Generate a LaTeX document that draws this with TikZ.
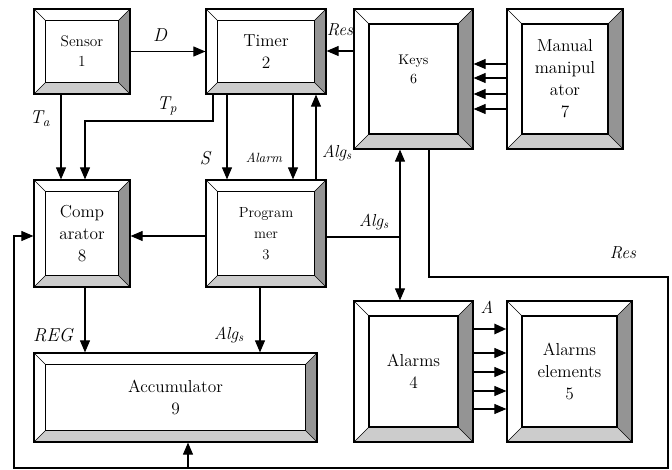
\documentclass[tikz,border=0pt]{standalone}
\usepackage{fontspec}
\usetikzlibrary{arrows.meta}

\tikzset{
  bev/.store in=\bevw, bev=8.6pt,
  blk/.style={draw, line width=0.9pt, align=center, inner sep=0pt,
    font=\fontsize{13}{16.5}\selectfont,
    path picture={
      \path (path picture bounding box.north east) coordinate (pNE)
            (path picture bounding box.north west) coordinate (pNW)
            (path picture bounding box.south east) coordinate (pSE)
            (path picture bounding box.south west) coordinate (pSW);
      \path ([xshift=-\bevw,yshift=-\bevw]pNE) coordinate (qNE)
            ([xshift=\bevw,yshift=-\bevw]pNW) coordinate (qNW)
            ([xshift=-\bevw,yshift=\bevw]pSE) coordinate (qSE)
            ([xshift=\bevw,yshift=\bevw]pSW) coordinate (qSW);
      \fill[black!42] (pNE) -- (pSE) -- (qSE) -- (qNE) -- cycle;
      \fill[black!20] (pSW) -- (pSE) -- (qSE) -- (qSW) -- cycle;
      \draw[line width=0.8pt] (qSW) rectangle (qNE);
      \draw[line width=0.5pt] (pNW) -- (qNW) (pNE) -- (qNE) (pSE) -- (qSE) (pSW) -- (qSW);
    }},
  arr/.style={line width=0.8pt, -{Triangle[length=9pt,width=7.5pt]}},
  lbl/.style={font=\fontsize{14}{16}\selectfont\itshape, inner sep=0pt}
}

\begin{document}
\begin{tikzpicture}[x=0.75pt,y=-0.75pt]
\useasboundingbox (0,0) rectangle (672,470);

% blocks
\node[blk, font=\fontsize{11.5}{15}\selectfont, minimum width=72pt, minimum height=63.75pt] (sensor) at (82,51.5) {Sensor\\1};
\node[blk, minimum width=90pt, minimum height=63.75pt] (timer) at (266,51.5) {Timer\\2};
\node[blk, bev=11.25pt, font=\fontsize{10.5}{14.5}\selectfont, minimum width=89.25pt, minimum height=105pt] (keys) at (413.5,79) {Keys\\6\\[0pt]};
\node[blk, bev=11.25pt, minimum width=87pt, minimum height=105pt] (manip) at (565,79) {Manual\\manipul\\ator\\7};
\node[blk, minimum width=72pt, minimum height=80.25pt] (comp) at (82,233.5) {Comp\\arator\\8};
\node[blk, font=\fontsize{11}{15.5}\selectfont, minimum width=90pt, minimum height=80.25pt] (prog) at (266,233.5) {Program\\mer\\3};
\node[blk, minimum width=212.25pt, minimum height=66.75pt] (accu) at (175.5,397.5) {Accumulator\\9};
\node[blk, bev=11.25pt, minimum width=89.25pt, minimum height=105.75pt] (alarms) at (413.5,371.5) {Alarms\\4};
\node[blk, bev=11.25pt, minimum width=93.75pt, minimum height=105.75pt] (elem) at (569.5,371.5) {Alarms\\elements\\5};

% junctions
\coordinate (jAlg) at (400,237);
\coordinate (jAcc) at (188,468);

% connectors
\draw[arr] (sensor) -- (timer);
\draw[arr] (sensor.south -| 61,0) -- (comp.north -| 61,0);
\draw[arr] (timer.south -| 213,0) |- (85,121) -- (comp.north -| 85,0);
\draw[arr] (timer.south -| 227,0) -- (prog.north -| 227,0);
\draw[arr] (timer.south -| 293,0) -- (prog.north -| 293,0);
\draw[arr] (prog.north -| 316,0) -- (timer.south -| 316,0);
\draw[arr] (keys.west |- 0,51) -- (timer.east |- 0,51);
\foreach \y in {64,78,94,109}
  \draw[arr] (manip.west |- 0,\y) -- (keys.east |- 0,\y);
\draw[arr] (prog.west |- 0,236) -- (comp.east |- 0,236);
\draw[line width=0.8pt] (prog.east |- jAlg) -- (jAlg);
\draw[arr] (jAlg) -- (keys.south -| jAlg);
\draw[arr] (jAlg) -- (alarms.north -| jAlg);
\draw[arr] (keys.south -| 429,0) |- (668,277) -- (668,468) -| (14,236) -- (comp.west |- 0,236);
\draw[arr] (jAcc) -- (accu.south -| jAcc);
\draw[arr] (comp.south -| 85,0) -- (accu.north -| 85,0);
\draw[arr] (prog.south -| 260,0) -- (accu.north -| 260,0);
\draw[arr, line width=2pt] (alarms.east |- 0,329) -- (elem.west |- 0,329);
\foreach \y in {353,372,391,409}
  \draw[arr] (alarms.east |- 0,\y) -- (elem.west |- 0,\y);

% labels
\node[lbl] (lD) at (160,35) {D};
\node[lbl] (lTa) at (40,119) {T\textsubscript{a}};
\node[lbl] (lTp) at (167,106) {T\textsubscript{p}};
\node[lbl] (lS) at (205,158) {S};
\node[lbl, font=\fontsize{10}{12}\selectfont\itshape] (lAlarm) at (264,158) {Alarm};
\node[lbl, font=\fontsize{13}{16}\selectfont\itshape] (lAlg1) at (337,153) {Alg\textsubscript{s}};
\node[lbl, font=\fontsize{13}{16}\selectfont\itshape] (lRes1) at (340,30) {Res};
\node[lbl, font=\fontsize{13}{16}\selectfont\itshape] (lAlg2) at (374,222) {Alg\textsubscript{s}};
\node[lbl, font=\fontsize{13}{16}\selectfont\itshape] (lRes2) at (623,253) {Res};
\node[lbl, font=\fontsize{13}{16}\selectfont\itshape] (lA) at (487,307) {A};
\node[lbl] (lREG) at (53,335) {REG};
\node[lbl, font=\fontsize{13}{16}\selectfont\itshape] (lAlg3) at (229,335) {Alg\textsubscript{s}};
\end{tikzpicture}
\end{document}
